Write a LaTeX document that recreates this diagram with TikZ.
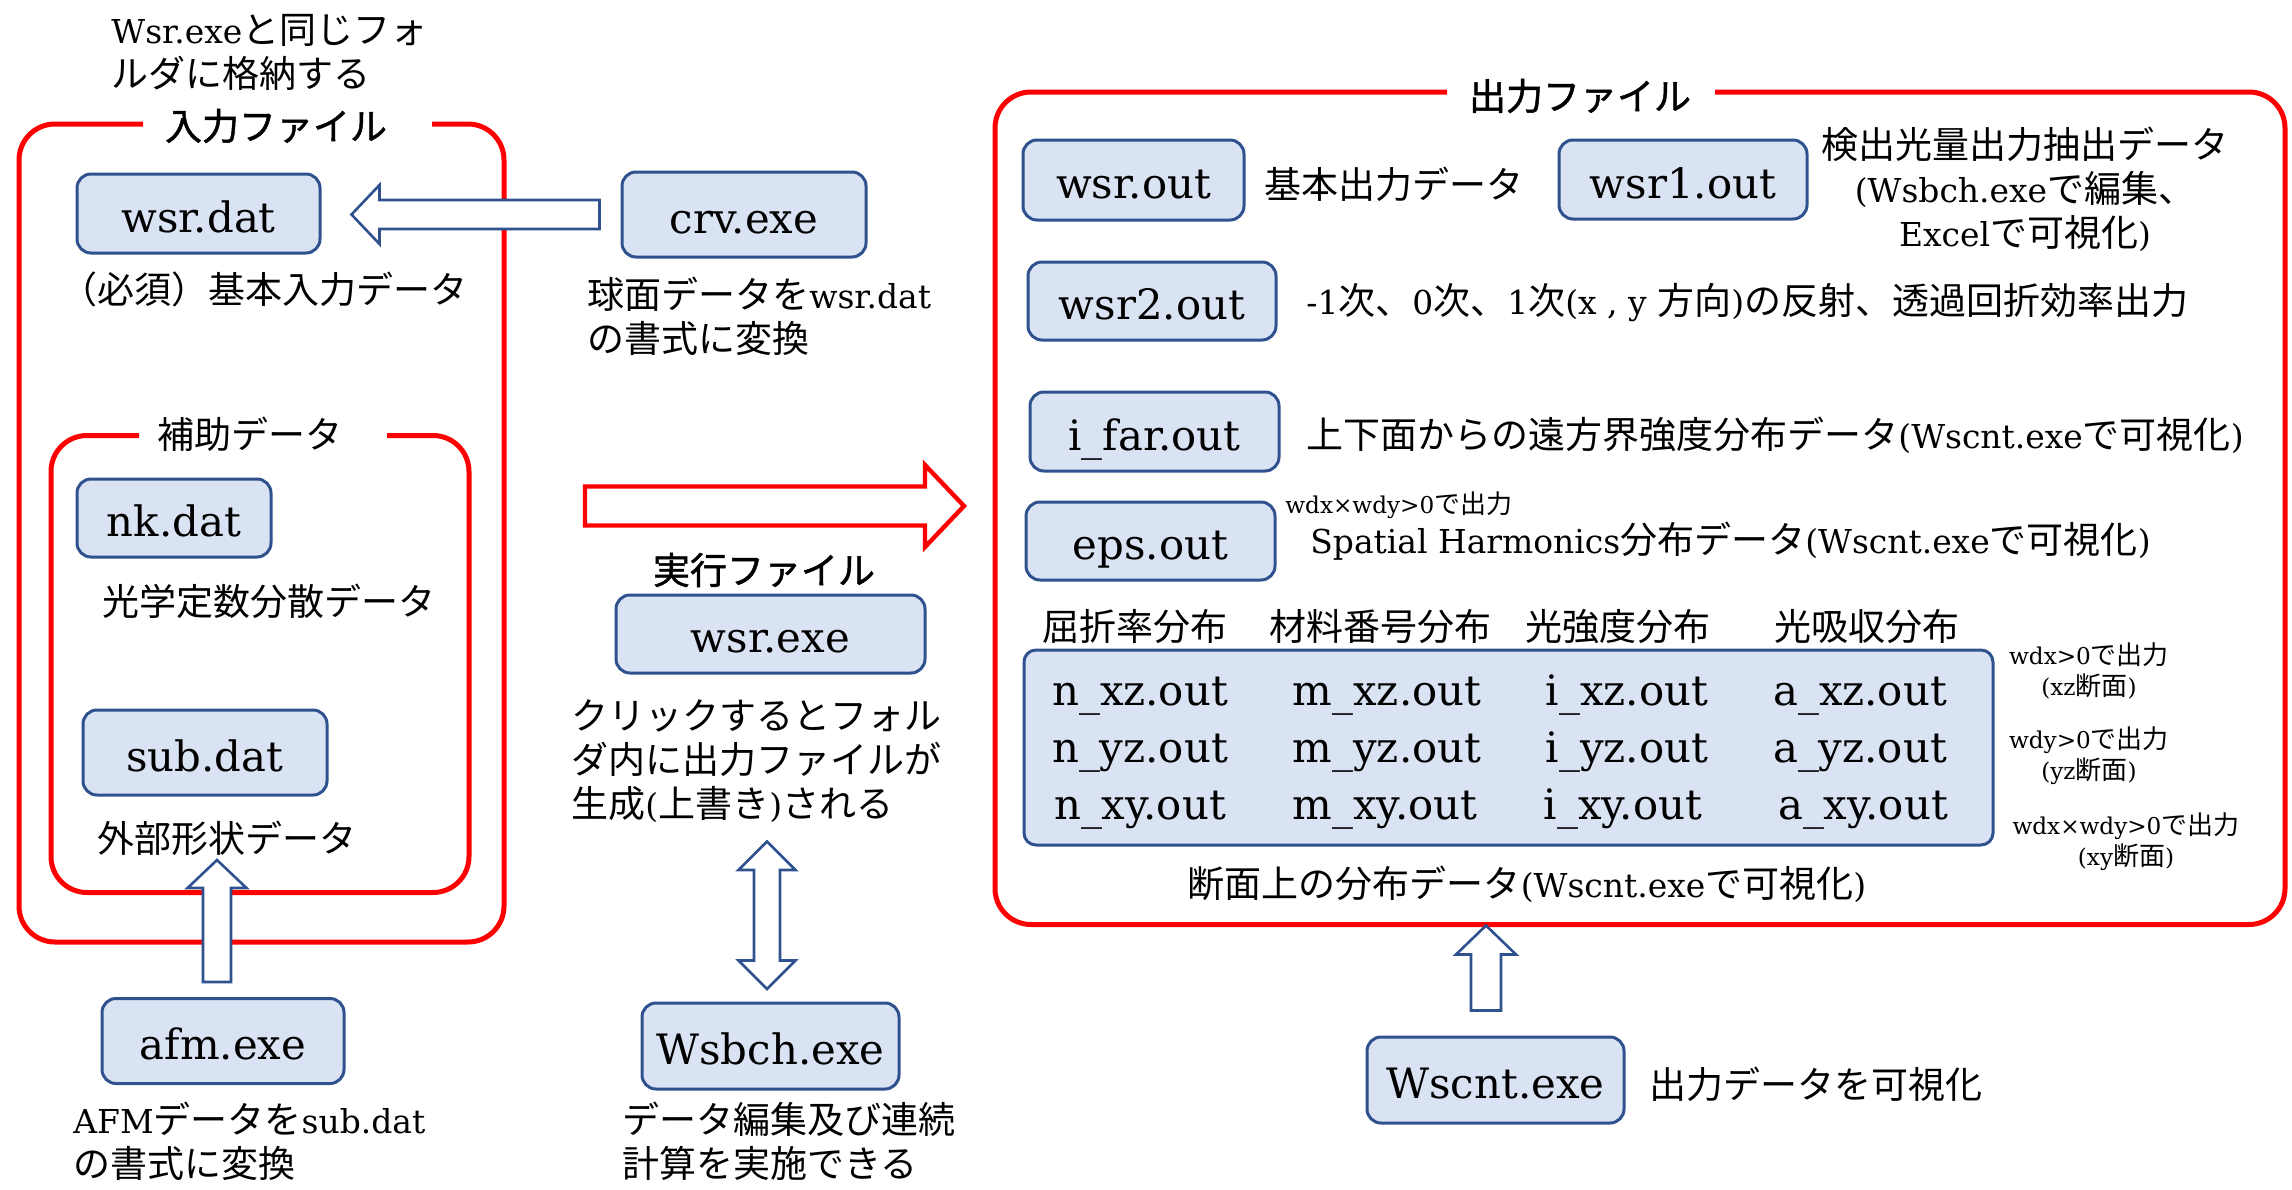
\documentclass[tikz,border=0pt]{standalone}
\usepackage{fontspec}
\setmainfont{DejaVu Serif}[Scale=0.89]
\newfontfamily\jp{Noto Sans CJK JP}
\newfontfamily\jpb{Noto Sans CJK JP}[FakeBold=1.3]
\newcommand\J[1]{{\jp #1}}
\usetikzlibrary{calc}
\definecolor{boxfill}{HTML}{DAE3F3}
\definecolor{boxline}{HTML}{2F528F}
\definecolor{framered}{HTML}{FF0000}
\tikzset{
  filebox/.style={draw=boxline, fill=boxfill, line width=1.5pt, rounded corners=7pt, inner sep=0pt, text height=18.5pt, text depth=0pt, font=\fontsize{23.5}{28}\selectfont},
  cell/.style={inner sep=0pt, text height=12.5pt, text depth=0pt, font=\fontsize{23.5}{28}\selectfont},
  lbl/.style={inner sep=0pt, font=\fontsize{18.5}{22}\selectfont, align=left},
  lblc/.style={inner sep=0pt, font=\fontsize{18.5}{22}\selectfont, align=center},
  smallnote/.style={inner sep=0pt, font=\fontsize{13}{15.5}\selectfont, align=center},
  frameline/.style={draw=framered, line width=2.5pt, rounded corners=18pt},
  ftitle/.style={inner sep=0pt, font=\fontsize{18.5}{22}\selectfont\jpb},
  ftitleplain/.style={inner sep=0pt, font=\fontsize{18.5}{22}\selectfont\jp},
  hollow/.style={draw=boxline, fill=white, line width=1.3pt},
  hollowred/.style={draw=framered, fill=white, line width=2.2pt},
}
% #1 scope options, #2 style, #3 length, #4 shaft half, #5 head half, #6 head length
\newcommand\blockarrow[6]{%
  \begin{scope}[#1]
    \draw[#2] (0,-#4) -- ({#3-#6},-#4) -- ({#3-#6},-#5) -- (#3,0) -- ({#3-#6},#5) -- ({#3-#6},#4) -- (0,#4) -- cycle;
  \end{scope}}
\newcommand\dblarrow[6]{%
  \begin{scope}[#1]
    \draw[#2] (0,0) -- (#6,-#5) -- (#6,-#4) -- ({#3-#6},-#4) -- ({#3-#6},-#5) -- (#3,0) -- ({#3-#6},#5) -- ({#3-#6},#4) -- (#6,#4) -- (#6,#5) -- cycle;
  \end{scope}}
\begin{document}
\begin{tikzpicture}[x=0.5pt,y=-0.5pt]
\useasboundingbox (0,0) rectangle (2292,1189);

% frames
\draw[frameline] (432,124) -- (504,124) -- (504,942) -- (19,942) -- (19,124) -- (143,124);
\draw[frameline] (387,435.5) -- (469,435.5) -- (469,892.5) -- (51,892.5) -- (51,435.5) -- (139,435.5);
\draw[frameline] (1715,92) -- (2285,92) -- (2285,924.5) -- (995,924.5) -- (995,92) -- (1447,92);
\node[ftitle] (tin) at (276,126) {入力ファイル};
\node[ftitleplain] (taux) at (250,434) {補助データ};
\node[ftitle] (tout) at (1580,96) {出力ファイル};
\node[ftitle] (texec) at (764,570) {実行ファイル};

% top note
\node[lbl, anchor=west] (topnote) at (111,52) {Wsr.exe\J{と同じフォ}\\\J{ルダに格納する}};

% input side boxes
\node[filebox, minimum width=121.5pt, minimum height=39.5pt] (wsrdat) at (198.5,213.5) {wsr.dat};
\node[lbl, anchor=west] (lwsrdat) at (60,289) {\J{（必須）基本入力データ}};
\node[filebox, minimum width=122pt, minimum height=42.5pt] (crv) at (744,214.5) {crv.exe};
\node[lbl, anchor=west] (lcrv) at (587,316) {\J{球面データを}wsr.dat\\\J{の書式に変換}};
\node[filebox, minimum width=97pt, minimum height=39pt] (nkdat) at (174,518) {nk.dat};
\node[lbl, anchor=west] (lnk) at (102,601) {\J{光学定数分散データ}};
\node[filebox, minimum width=122pt, minimum height=42.5pt] (subdat) at (205,752.5) {sub.dat};
\node[lbl, anchor=west] (lsub) at (97,838) {\J{外部形状データ}};
\node[filebox, minimum width=121pt, minimum height=42.5pt] (afm) at (223,1041) {afm.exe};
\node[lbl, anchor=west] (lafm) at (73,1141) {AFM\J{データを}sub.dat\\\J{の書式に変換}};

% executable
\node[filebox, minimum width=154.5pt, minimum height=39pt] (wsrexe) at (770.5,634) {wsr.exe};
\node[lbl, anchor=west] (lwsrexe) at (571,761) {\J{クリックするとフォル}\\\J{ダ内に出力ファイルが}\\\J{生成}(\J{上書き})\J{される}};
\node[filebox, minimum width=128.5pt, minimum height=43pt] (wsbch) at (770.5,1046) {Wsbch.exe};
\node[lbl, anchor=west] (lwsbch) at (622,1141) {\J{データ編集及び連続}\\\J{計算を実施できる}};

% output boxes
\node[filebox, minimum width=110.5pt, minimum height=40pt] (wsrout) at (1133.5,180) {wsr.out};
\node[lbl, anchor=west] (lwsrout) at (1264,184) {\J{基本出力データ}};
\node[filebox, minimum width=124pt, minimum height=39.5pt] (wsr1out) at (1683,179.5) {wsr1.out};
\node[lblc] (lwsr1) at (2025,189) {\J{検出光量出力抽出データ}\\(Wsbch.exe\J{で編集、}\\Excel\J{で可視化})};
\node[filebox, minimum width=124pt, minimum height=39pt] (wsr2out) at (1152,301) {wsr2.out};
\node[lbl, anchor=west] (lwsr2) at (1306,303) {-1\J{次、}0\J{次、}1\J{次}(x , y \J{方向})\J{の反射、透過回折効率出力}};
\node[filebox, minimum width=124.5pt, minimum height=39.5pt] (ifar) at (1154.5,431.5) {i\_far.out};
\node[lbl, anchor=west] (lifar) at (1306,435) {\J{上下面からの遠方界強度分布データ}(Wscnt.exe\J{で可視化})};
\node[filebox, minimum width=124.5pt, minimum height=39pt] (eps) at (1150.5,541) {eps.out};
\node[smallnote, anchor=west] (neps) at (1285,505) {wdx×wdy>0\J{で出力}};
\node[lbl, anchor=west] (leps) at (1310,541) {Spatial Harmonics\J{分布データ}(Wscnt.exe\J{で可視化})};

% table
\node[lblc] (h1) at (1135,627) {\J{屈折率分布}};
\node[lblc] (h2) at (1380,627) {\J{材料番号分布}};
\node[lblc] (h3) at (1618,627) {\J{光強度分布}};
\node[lblc] (h4) at (1867,627) {\J{光吸収分布}};
\node[filebox, rounded corners=6pt, minimum width=484.5pt, minimum height=97.5pt] (tbl) at (1508.5,747.5) {};
\node[cell] (nxz) at (1140,693) {n\_xz.out};
\node[cell] (mxz) at (1387,693) {m\_xz.out};
\node[cell] (ixz) at (1627,693) {i\_xz.out};
\node[cell] (axz) at (1860,693) {a\_xz.out};
\node[cell] (nyz) at (1140,750) {n\_yz.out};
\node[cell] (myz) at (1387,750) {m\_yz.out};
\node[cell] (iyz) at (1627,750) {i\_yz.out};
\node[cell] (ayz) at (1860,750) {a\_yz.out};
\node[cell] (nxy) at (1140,807) {n\_xy.out};
\node[cell] (mxy) at (1385,807) {m\_xy.out};
\node[cell] (ixy) at (1623,807) {i\_xy.out};
\node[cell] (axy) at (1863,807) {a\_xy.out};
\node[smallnote] (nxzn) at (2089,671) {wdx>0\J{で出力}\\(xz\J{断面})};
\node[smallnote] (nyzn) at (2089,756) {wdy>0\J{で出力}\\(yz\J{断面})};
\node[smallnote] (nxyn) at (2126,842) {wdx×wdy>0\J{で出力}\\(xy\J{断面})};
\node[lblc] (cap) at (1527,884) {\J{断面上の分布データ}(Wscnt.exe\J{で可視化})};

\node[filebox, minimum width=128.5pt, minimum height=43pt] (wscnt) at (1495.5,1080) {Wscnt.exe};
\node[lbl, anchor=west] (lwscnt) at (1649,1084) {\J{出力データを可視化}};

% block arrows
\coordinate (a1) at ($(crv.west)+(-21,0)$);
\blockarrow{shift={(a1)},rotate=180}{hollow}{248}{14.5}{29.5}{28}
\coordinate (a2) at ($(afm.north)+(-6,-15)$);
\blockarrow{shift={(a2)},rotate=90}{hollow}{122}{14}{29.5}{28}
\coordinate (a3) at (585,506);
\blockarrow{shift={(a3)}}{hollowred}{379}{19.5}{41}{39}
\coordinate (a4) at ($(wsbch.north)+(-3.5,-12.5)$);
\dblarrow{shift={(a4)},rotate=90}{hollow}{147.5}{13}{28.5}{28.5}
\coordinate (a5) at ($(wscnt.north)+(-9.5,-25)$);
\blockarrow{shift={(a5)},rotate=90}{hollow}{85}{15}{30}{29}
\end{tikzpicture}
\end{document}
